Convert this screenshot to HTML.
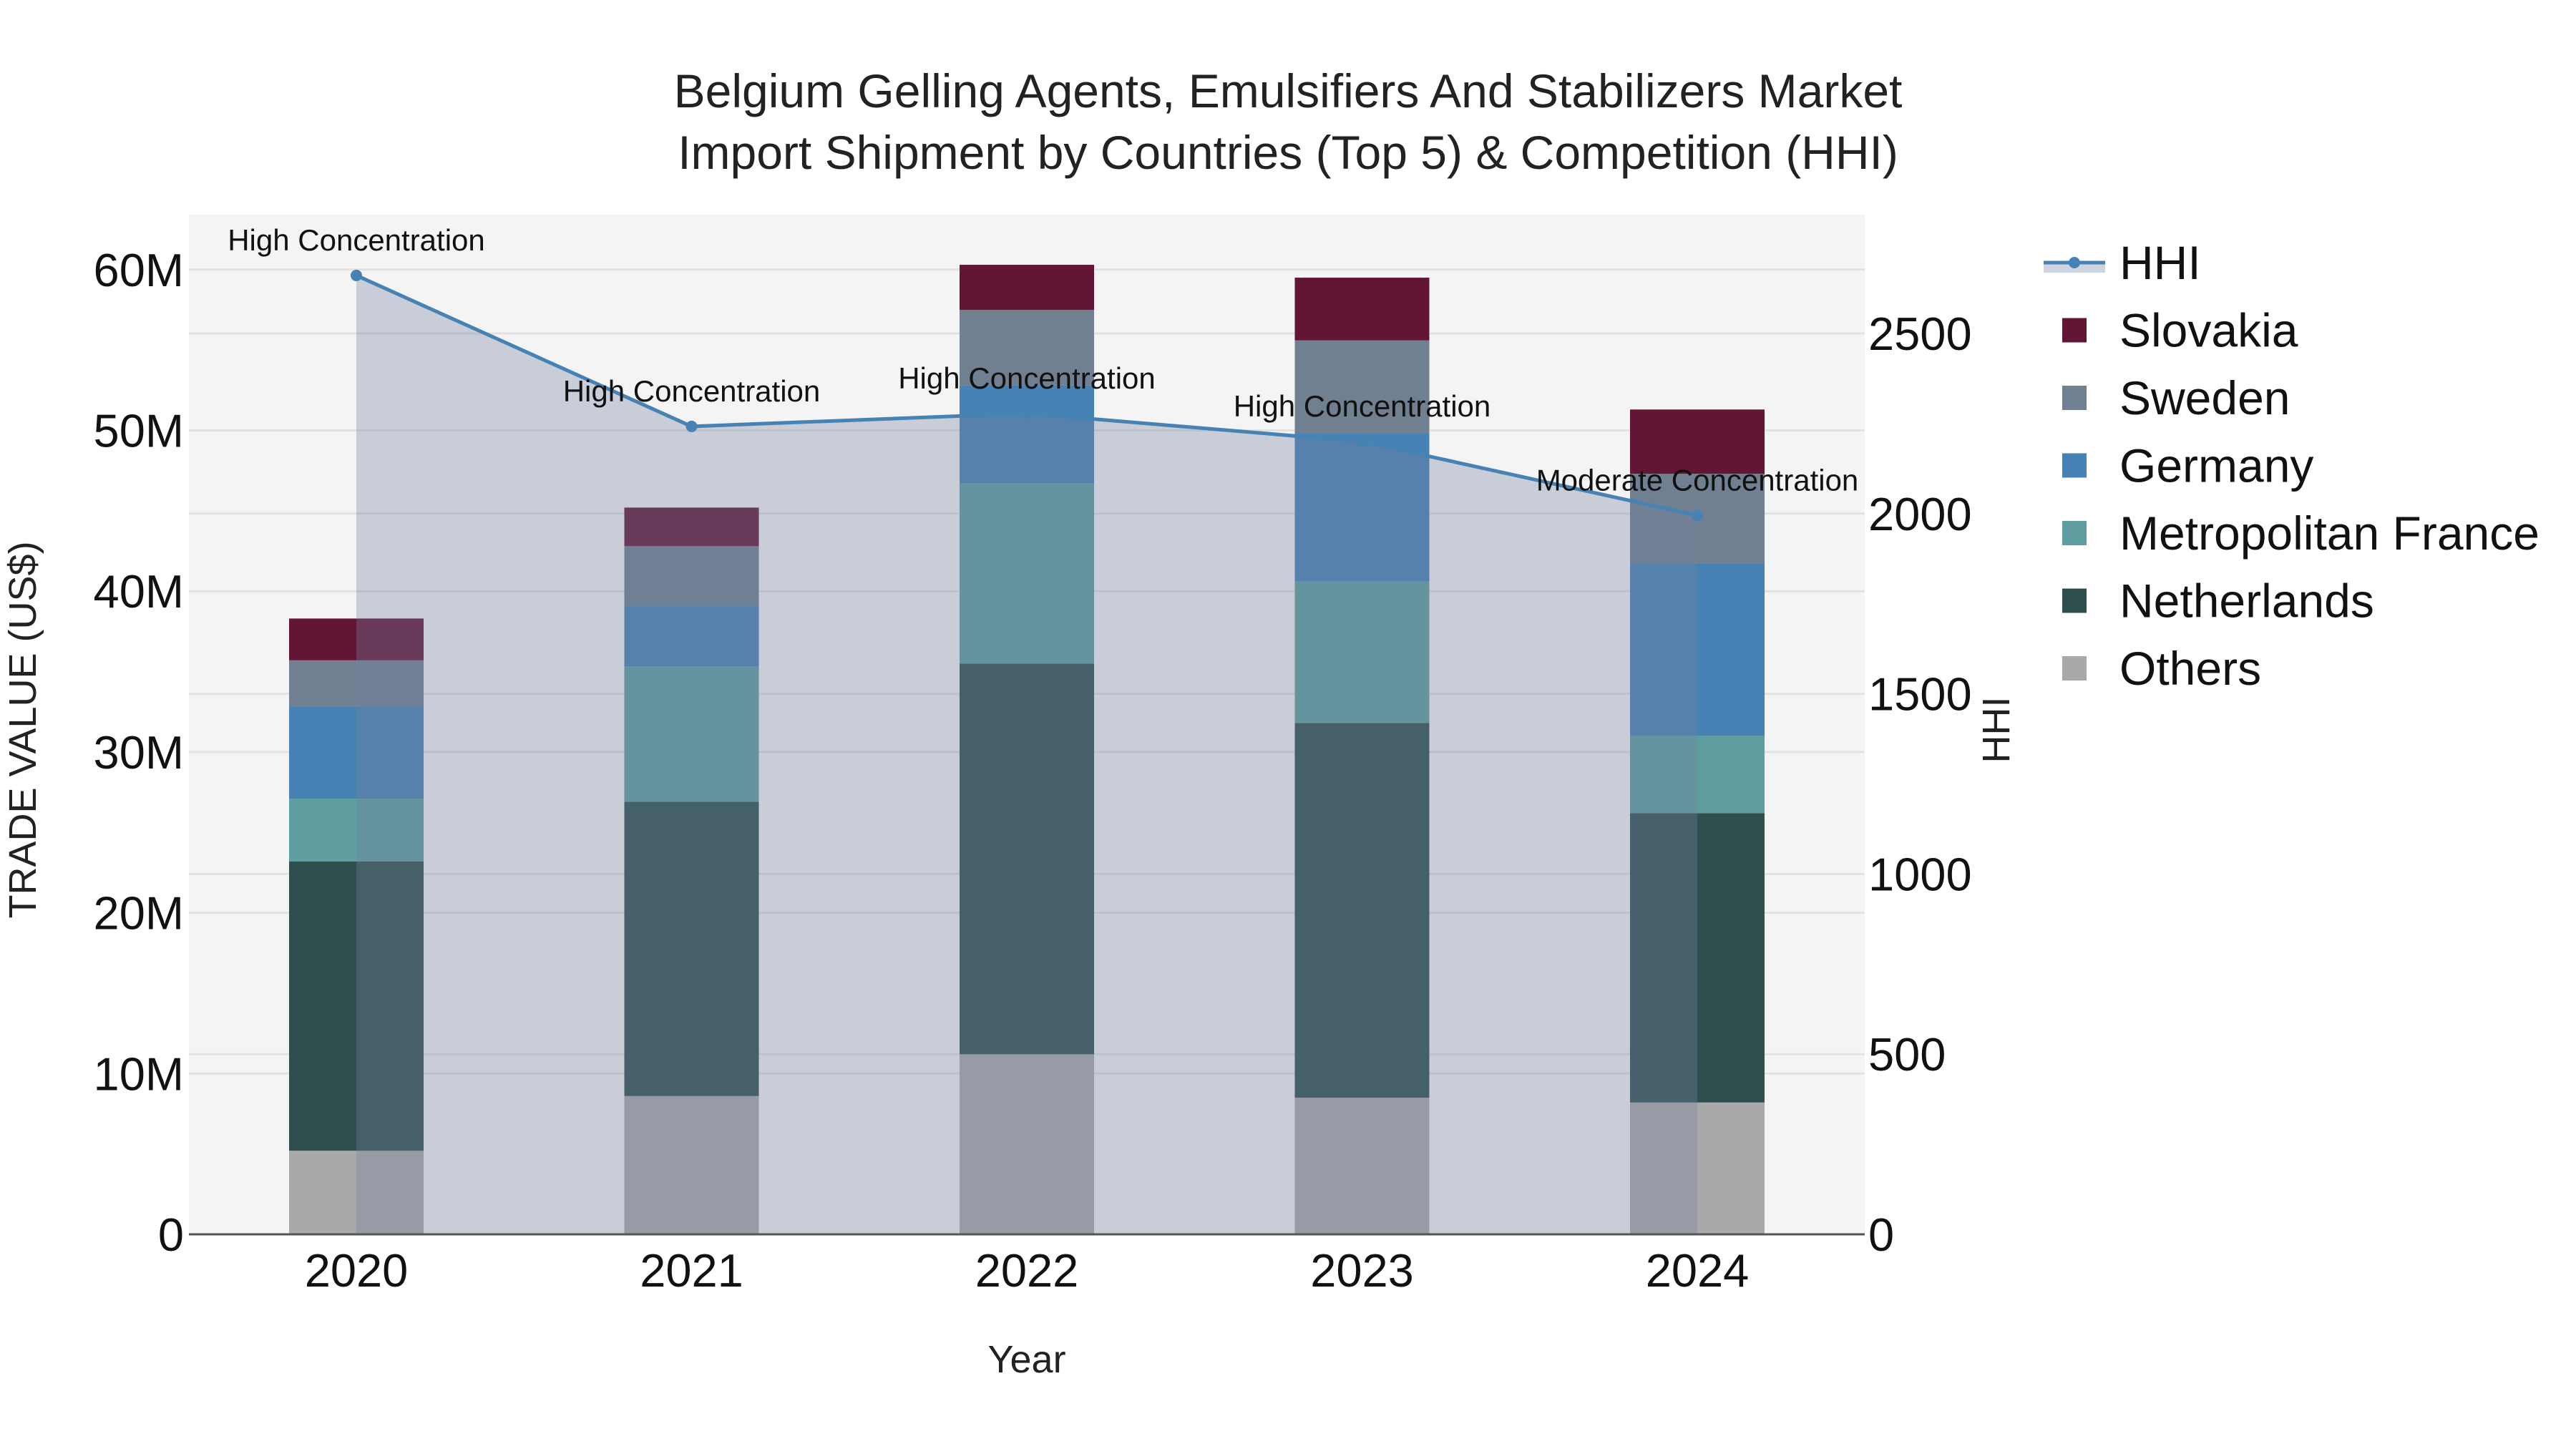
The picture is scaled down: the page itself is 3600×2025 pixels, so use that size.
<!DOCTYPE html>
<html><head><meta charset="utf-8"><style>
body{margin:0;background:#fff}
svg{display:block;font-family:"Liberation Sans",sans-serif}
</style></head><body>
<svg id="chart" width="3600" height="2025" xmlns="http://www.w3.org/2000/svg">
<rect x="0" y="0" width="3600" height="2025" fill="#fff"/>
<rect x="264" y="300" width="2342" height="1425" fill="#f4f4f4"/>
<g id="grid"></g><g id="bars"></g><g id="area"></g><g id="line"></g><g id="annos"></g><g id="axes"></g><g id="legend"></g>
<text x="1800" y="150" text-anchor="middle" font-size="66" fill="#222">Belgium Gelling Agents, Emulsifiers And Stabilizers Market</text>
<text x="1800" y="236" text-anchor="middle" font-size="66" fill="#222">Import Shipment by Countries (Top 5) &amp; Competition (HHI)</text>
<text x="1435" y="1918" text-anchor="middle" font-size="54" fill="#222">Year</text>
<text transform="translate(50,1020) rotate(-90)" text-anchor="middle" font-size="54" fill="#222">TRADE VALUE (US$)</text>
<text transform="translate(2808,1020) rotate(-90)" text-anchor="middle" font-size="54" fill="#222">HHI</text>
</svg>
<script>
const years=["2020","2021","2022","2023","2024"];
const others=[5.2,8.6,11.2,8.5,8.2];
const netherlands=[18.0,18.3,24.3,23.3,18.0];
const france=[3.9,8.4,11.2,8.8,4.8];
const germany=[5.7,3.8,6.1,9.2,10.7];
const sweden=[2.9,3.7,4.7,5.8,5.6];
const slovakia=[2.6,2.4,2.8,3.9,4.0];
const hhi=[2661,2242,2278,2200,1995];
const hhiLabels=["High Concentration","High Concentration","High Concentration","High Concentration","Moderate Concentration"];
const yTicks=[0,10,20,30,40,50,60];
const y2Ticks=[0,500,1000,1500,2000,2500];

const NS="http://www.w3.org/2000/svg";
const X0=264,X1=2606,Y0=1725;
const xc=i=>498+468.5*i;
const yv=v=>Y0-v*22.47;
const y2=v=>Y0-v*0.5036;
const BW=188;
function mk(tag,attrs,parent,text){const e=document.createElementNS(NS,tag);for(const k in attrs)e.setAttribute(k,attrs[k]);if(text!==undefined)e.textContent=text;document.getElementById(parent).appendChild(e);return e;}

yTicks.forEach(t=>{
 if(t>0){const g=mk('line',{x1:X0,x2:X1,y1:yv(t*1),y2:yv(t*1),stroke:'#e2e2e2','stroke-width':3},'grid');
 
 }
 const l=mk('text',{x:257,y:yv(t)+23,'text-anchor':'end','font-size':65,fill:'#111'},'axes',t===0?'0':t+'M');
 
 
});
y2Ticks.forEach(t=>{
 if(t>0){const g=mk('line',{x1:X0,x2:X1,y1:y2(t),y2:y2(t),stroke:'#e2e2e2','stroke-width':3},'grid');
 
 }
 const l=mk('text',{x:2611,y:y2(t)+23,'font-size':65,fill:'#111'},'axes',String(t));
 
 
});
years.forEach((yr,i)=>{
 const l=mk('text',{x:xc(i),y:1798,'text-anchor':'middle','font-size':65,fill:'#111'},'axes',yr);
 
 
});
const ax=mk('line',{x1:X0,x2:X1,y1:Y0,y2:Y0,stroke:'#555','stroke-width':3},'axes');



const series=[["Others",others,"#a9a9a9"],["Netherlands",netherlands,"#2f4f4f"],["Metropolitan France",france,"#5f9ea0"],["Germany",germany,"#4682b4"],["Sweden",sweden,"#708090"],["Slovakia",slovakia,"#631535"]];
const base=years.map(()=>0);
series.forEach(([name,vals,col])=>{
 vals.forEach((v,i)=>{
  const r=mk('rect',{x:xc(i)-BW/2,y:yv(base[i]+v),width:BW,height:yv(base[i])-yv(base[i]+v),fill:col},'bars');
  
  
  base[i]+=v;
 });
});

let d='M'+xc(0)+','+Y0;
hhi.forEach((h,i)=>{d+=' L'+xc(i)+','+y2(h);});
d+=' L'+xc(hhi.length-1)+','+Y0+' Z';
const area=mk('path',{d:d,fill:'rgba(114,128,159,0.34)'},'area');


const pl=mk('polyline',{points:hhi.map((h,i)=>xc(i)+','+y2(h)).join(' '),fill:'none',stroke:'#4682b4','stroke-width':5},'line');


hhi.forEach((h,i)=>{
 const c=mk('circle',{cx:xc(i),cy:y2(h),r:8,fill:'#4682b4'},'line');
 
 
 const t=mk('text',{x:xc(i),y:y2(h)-35,'text-anchor':'middle','font-size':42,fill:'#111'},'annos',hhiLabels[i]);
 
 
});

const legItems=[["HHI",null],["Slovakia","#631535"],["Sweden","#708090"],["Germany","#4682b4"],["Metropolitan France","#5f9ea0"],["Netherlands","#2f4f4f"],["Others","#a9a9a9"]];
legItems.forEach(([n,col],k)=>{
 const cy=367+94.5*k;
 if(col){const s=mk('rect',{x:2882,y:cy-17,width:34,height:34,fill:col},'legend');
  
  }
 else{const a=mk('rect',{x:2856,y:cy,width:86,height:14,fill:'rgba(114,128,159,0.34)'},'legend');
  
  
  const l=mk('line',{x1:2856,x2:2942,y1:cy,y2:cy,stroke:'#4682b4','stroke-width':5},'legend');
  
  
  const c=mk('circle',{cx:2899,cy:cy,r:8,fill:'#4682b4'},'legend');
  
  }
 const t=mk('text',{x:2962,y:cy+23,'font-size':66,fill:'#111'},'legend',n);
 
 
});
</script>
</body></html>
